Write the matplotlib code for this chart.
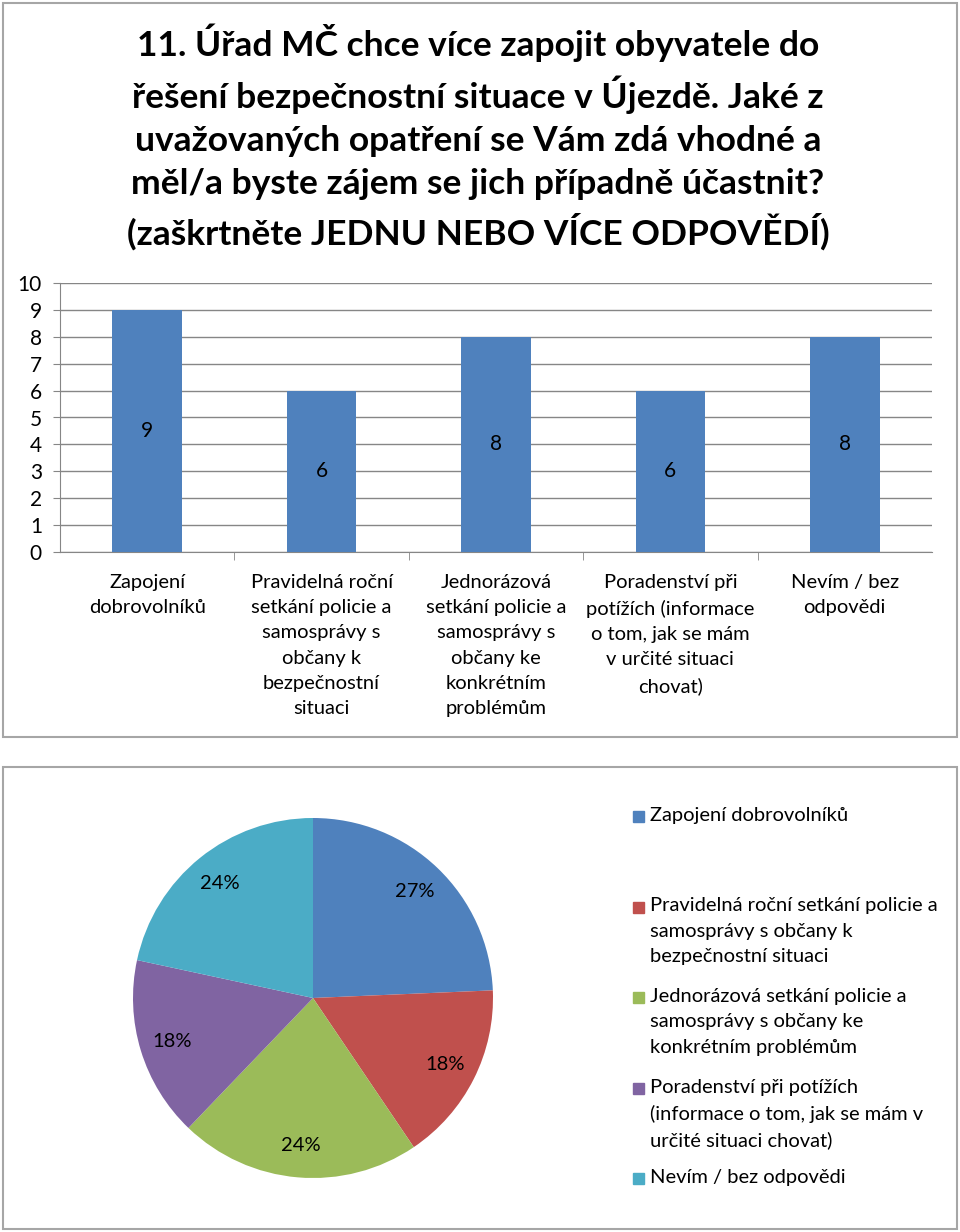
import matplotlib
matplotlib.use("Agg")
import matplotlib.pyplot as plt
from matplotlib.patches import Rectangle

plt.rcParams['font.family'] = ['Lato', 'DejaVu Sans']

categories = [
    "Zapojení\ndobrovolníků",
    "Pravidelná roční\nsetkání policie a\nsamosprávy s\nobčany k\nbezpečnostní\nsituaci",
    "Jednorázová\nsetkání policie a\nsamosprávy s\nobčany ke\nkonkrétním\nproblémům",
    "Poradenství při\npotížích (informace\no tom, jak se mám\nv určité situaci\nchovat)",
    "Nevím / bez\nodpovědi",
]
legend_labels = [
    "Zapojení dobrovolníků",
    "Pravidelná roční setkání policie a\nsamosprávy s občany k\nbezpečnostní situaci",
    "Jednorázová setkání policie a\nsamosprávy s občany ke\nkonkrétním problémům",
    "Poradenství při potížích\n(informace o tom, jak se mám v\nurčité situaci chovat)",
    "Nevím / bez odpovědi",
]
values = [9, 6, 8, 6, 8]
pct_labels = ["27%", "18%", "24%", "18%", "24%"]
y_ticks = list(range(0, 11))
title = ("11. Úřad MČ chce více zapojit obyvatele do\n"
         "řešení bezpečnostní situace v Újezdě. Jaké z\n"
         "uvažovaných opatření se Vám zdá vhodné a\n"
         "měl/a byste zájem se jich případně účastnit?\n"
         "(zaškrtněte JEDNU NEBO VÍCE ODPOVĚDÍ)")

bar_color = "#4F81BD"
pie_colors = ["#4F81BD", "#C0504D", "#9BBB59", "#8064A2", "#4BACC6"]

W, H = 960, 1232
fig = plt.figure(figsize=(W / 100, H / 100), dpi=100)

def fx(px):
    return px / W

def fy(py):
    return 1 - py / H

FS = 14.5

# panel frames
for (x0, y0, x1, y1) in [(3, 3, 957, 737), (3, 767, 957, 1229)]:
    fig.patches.append(Rectangle((fx(x0), fy(y1)), fx(x1 - x0), (y1 - y0) / H,
                                 transform=fig.transFigure, fill=False,
                                 edgecolor="#A6A6A6", linewidth=1.5))

# title
fig.text(fx(478), fy(137), title, ha="center", va="center", fontsize=25.5,
         fontweight="bold", linespacing=1.42, color="black")

# bar chart
ax = fig.add_axes([fx(60), fy(552), fx(932 - 60), (552 - 283) / H])
x = list(range(len(values)))
bars = ax.bar(x, values, width=0.4, color=bar_color, zorder=3)
ax.set_xlim(-0.5, len(values) - 0.5)
ax.set_ylim(0, 10)
ax.set_yticks(y_ticks)
ax.set_yticklabels([str(t) for t in y_ticks], fontsize=15)
ax.yaxis.grid(True, color="#868686", linewidth=1, zorder=0)
ax.set_xticks(x)
ax.set_xticklabels(categories, fontsize=FS, linespacing=1.58, va="top")
ax.tick_params(axis="x", length=0, pad=16)
ax.set_xticks([i + 0.5 for i in x[:-1]], minor=True)
ax.tick_params(axis="x", which="minor", length=6, color="#868686", direction="out")
ax.tick_params(axis="y", length=5, color="#868686", pad=8)
for s in ["top", "right"]:
    ax.spines[s].set_visible(False)
for s in ["left", "bottom"]:
    ax.spines[s].set_color("#868686")
for b, v in zip(bars, values):
    ax.text(b.get_x() + b.get_width() / 2, v / 2, str(v), ha="center",
            va="center", fontsize=15, zorder=4)

# pie chart
cx, cy, r = 313, 998, 180
pax = fig.add_axes([fx(cx - r), fy(cy + r), fx(2 * r), 2 * r / H])
wedges, texts = pax.pie(values, labels=pct_labels, colors=pie_colors,
                        startangle=90, counterclock=False, labeldistance=0.82,
                        wedgeprops=dict(linewidth=0))
for t in texts:
    t.set_ha("center")
    t.set_va("center")
    t.set_fontsize(FS)
pax.set_xlim(-1, 1)
pax.set_ylim(-1, 1)
pax.set_aspect("equal")

# legend (equal slots, top aligned)
slot = 90.5
top = 807
for i, (lab, col) in enumerate(zip(legend_labels, pie_colors)):
    ty = top + i * slot
    fig.patches.append(Rectangle((fx(633), fy(ty + 15)), fx(11), 11 / H,
                                 transform=fig.transFigure, color=col))
    fig.text(fx(650), fy(ty), lab, ha="left", va="top", fontsize=FS,
             linespacing=1.6)

fig.savefig("out.png", dpi=100)
